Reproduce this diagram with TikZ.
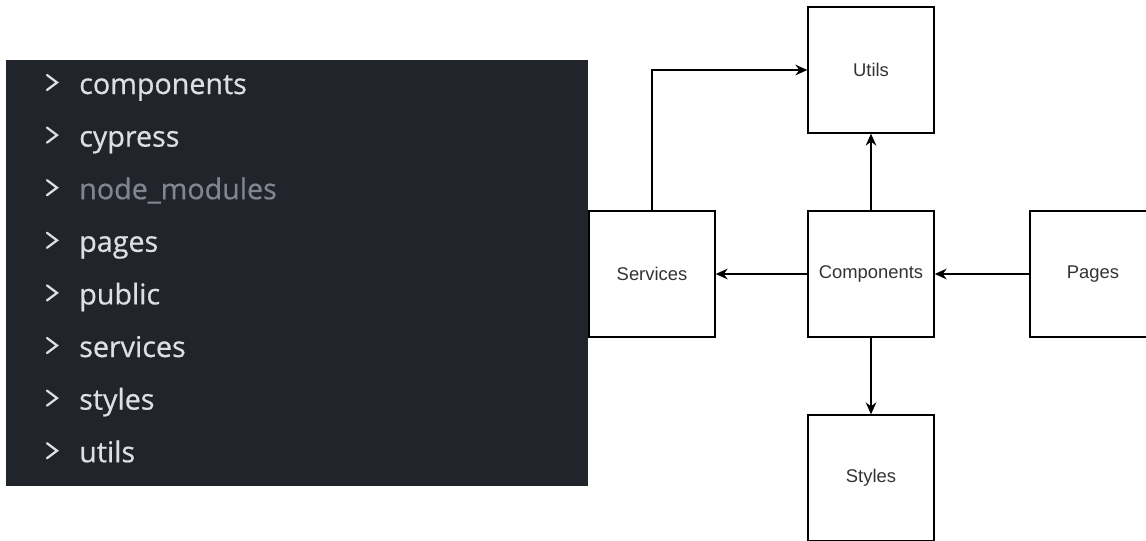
\documentclass[tikz,border=0pt]{standalone}
\usepackage{fontspec}
\setmainfont{Liberation Sans}
\newfontfamily\treefont[FakeBold=0.6]{Open Sans}
\usetikzlibrary{arrows.meta}
\definecolor{panelbg}{HTML}{21252B}
\definecolor{itemfg}{HTML}{DCDFE4}
\definecolor{dimfg}{HTML}{80858F}
\definecolor{labelfg}{HTML}{333333}
\tikzset{
  folder/.style={anchor=base west, inner sep=0pt, font=\treefont\fontsize{21.5}{21.5}\selectfont},
  chevron/.style={draw=itemfg, line width=1.7pt, line cap=round, line join=miter},
  module/.style={draw, line width=1pt, minimum width=94.5pt, minimum height=94.5pt, inner sep=0pt,
    text=labelfg, font=\fontsize{13.8}{13.8}\selectfont},
  link/.style={->, line width=1pt}
}
\begin{document}
\begin{tikzpicture}[x=0.75pt, y=-0.75pt, >={Stealth[length=9pt,width=8pt,inset=3pt]}]
 \clip (0,0) rectangle (1146,540);
 \fill[white] (0,0) rectangle (1146,540);
 % folder list
 \fill[panelbg] (6,60) rectangle (588,486);
 \foreach \name/\row/\col in {components/0/itemfg, cypress/1/itemfg, node\_modules/2/dimfg,
   pages/3/itemfg, public/4/itemfg, services/5/itemfg, styles/6/itemfg, utils/7/itemfg} {
   \pgfmathsetmacro\base{94+52.6*\row}
   \draw[chevron] (47,\base-19) -- (57,\base-11.5) -- (47,\base-4);
   \node[folder, text=\col] (dir\row) at (79,\base) {\name};
 }
 % modules
 \node[module] (utils) at (871,70) {Utils};
 \node[module] (services) at (652,274) {Services};
 \node[module] (components) at (871,274) {Components};
 \node[module] (pages) at (1093,274) {Pages};
 \node[module] (styles) at (871,478) {Styles};
 \draw[link] (services.north) |- (utils);
 \draw[link] (components) -- (utils);
 \draw[link] (components) -- (services);
 \draw[link] (pages) -- (components);
 \draw[link] (components) -- (styles);
\end{tikzpicture}
\end{document}
